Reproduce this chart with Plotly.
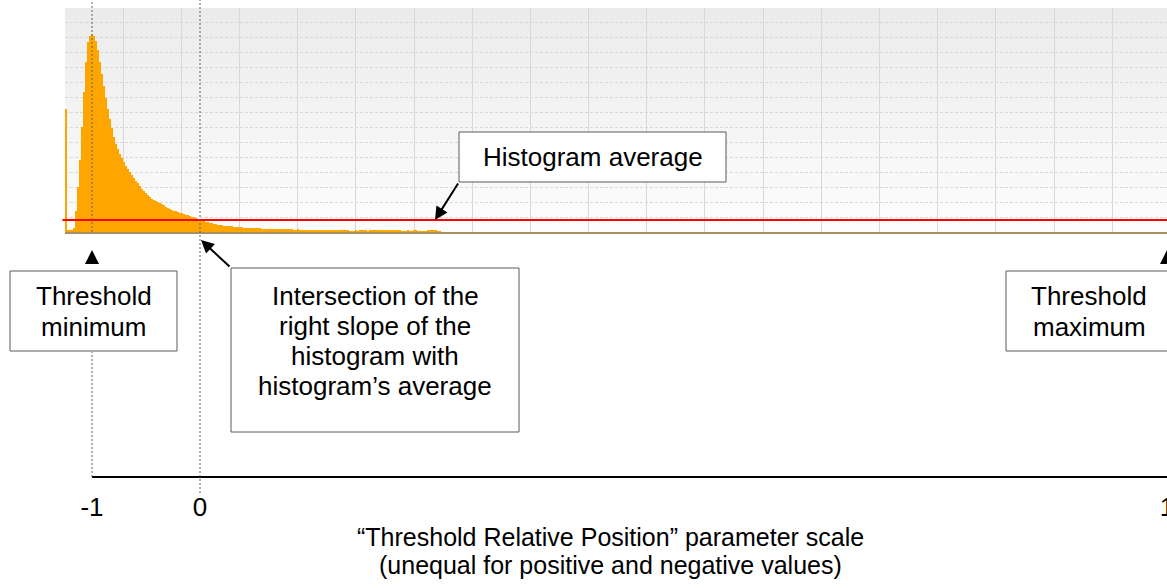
import base64
import struct
import zlib

import plotly.graph_objects as go

W, H = 1167, 588

# Histogram counts, one value per bin (bin i spans [i, i+1] on the x axis)
hist_counts = [
    820, 7, 7, 7, 27, 140, 300, 480, 700, 933,
    1133, 1267, 1307, 1320, 1307, 1273, 1213, 1133, 1053, 973,
    893, 820, 753, 693, 633, 587, 553, 520, 493, 467,
    440, 420, 400, 380, 360, 340,
    327, 307, 287, 273, 260, 247, 233, 223, 213, 207, 200, 193, 187, 177, 167,
    160, 153, 147, 140, 140, 133, 127, 127, 120, 113, 113, 107, 100, 100, 93, 87, 80,
    73, 73, 67, 67, 60, 60,
    53, 53, 50, 47, 47, 43, 40, 40, 40, 37,
    33, 33, 33, 33, 33, 30, 30, 30, 30, 27,
    27, 27, 27, 27, 23, 23, 23, 23, 23, 20, 20, 20, 20, 20, 20,
    17, 17, 17, 17, 17, 13, 13, 17, 13, 13, 13, 13, 13, 13, 10, 13, 10, 10, 10, 10, 10, 10, 10, 10,
    10, 10, 10, 10, 10, 10, 10, 10, 10, 3,
    3, 3, 10, 3, 10, 10, 10, 10, 3, 10,
    10, 10, 10, 10, 10, 10, 10, 10, 10, 10,
    10, 10, 10, 10, 10, 3, 3, 3, 10, 3,
    3, 10, 10, 3, 3, 3, 3, 3, 10, 10,
    10, 10, 10, 3, 3,
]
AVERAGE = 80                      # histogram average (same units as counts)
VIEW_BINS = 551                   # number of bins visible on the x axis
scale_labels = ["-1", "0", "1"]   # parameter scale tick labels

FONT = "Liberation Sans, Arial, sans-serif"


def fy(pix):
    """pixel row -> paper y"""
    return 1 - pix / H


def fx(pix):
    """pixel column -> paper x"""
    return pix / W


# threshold positions in bin coordinates
peak_bin = hist_counts.index(max(hist_counts))
cross_bin = next(i for i in range(peak_bin, len(hist_counts)) if hist_counts[i] <= AVERAGE)
thr_min = peak_bin + 0.5
thr_zero = cross_bin + 0.5
thr_max = VIEW_BINS


def gradient_png(h, top, bottom):
    rows = b"".join(b"\x00" + bytes([round(top + (bottom - top) * i / (h - 1))]) for i in range(h))

    def chunk(tag, data):
        return struct.pack(">I", len(data)) + tag + data + struct.pack(">I", zlib.crc32(tag + data) & 0xFFFFFFFF)

    png = (b"\x89PNG\r\n\x1a\n"
           + chunk(b"IHDR", struct.pack(">IIBBBBB", 1, h, 8, 0, 0, 0, 0))
           + chunk(b"IDAT", zlib.compress(rows))
           + chunk(b"IEND", b""))
    return "data:image/png;base64," + base64.b64encode(png).decode()


fig = go.Figure()
fig.add_trace(go.Bar(
    x=[i + 0.5 for i in range(len(hist_counts))],
    y=hist_counts,
    width=1,
    marker=dict(color="#ffa500", line=dict(width=0)),
    hoverinfo="skip",
    showlegend=False,
))
# invisible trace to bring the parameter-scale axis to life
fig.add_trace(go.Scatter(x=[thr_min, thr_max], y=[0, 0], xaxis="x2", yaxis="y2",
                         mode="markers", marker=dict(opacity=0), hoverinfo="skip", showlegend=False))

fig.update_layout(
    width=W, height=H,
    margin=dict(l=0, r=0, t=0, b=0, autoexpand=False),
    paper_bgcolor="white",
    plot_bgcolor="rgba(0,0,0,0)",
    bargap=0,
    font=dict(family=FONT, color="black"),
    xaxis=dict(
        domain=[fx(65), 1], range=[0, VIEW_BINS], automargin=False,
        showgrid=True, gridcolor="#d8d8d8", gridwidth=1,
        tick0=0, dtick=29.09, ticks="", showticklabels=False,
        zeroline=False, showline=True, linecolor="#a89060", linewidth=2,
    ),
    yaxis=dict(
        domain=[fy(232), fy(8)], range=[0, 224 / 15 * 100], automargin=False,
        showgrid=True, gridcolor="#d8d8d8", griddash="3px,2px", dtick=100,
        ticks="", showticklabels=False, zeroline=False, showline=False,
    ),
    xaxis2=dict(
        domain=[fx(92), 1], range=[thr_min, thr_max], anchor="y2", automargin=False,
        tickmode="array", tickvals=[thr_min, thr_zero, thr_max], ticktext=scale_labels,
        tickfont=dict(size=26, family=FONT, color="black"),
        ticks="", ticklabelstandoff=7, ticklabeloverflow="allow",
        showgrid=False, zeroline=False, showline=True, linecolor="black", linewidth=2,
    ),
    yaxis2=dict(domain=[fy(476), fy(470)], range=[0, 1], visible=False, automargin=False),
    images=[dict(
        source=gradient_png(224, 235, 253),
        xref="paper", yref="paper", x=fx(65), y=fy(8),
        sizex=1 - fx(65), sizey=fy(8) - fy(232),
        xanchor="left", yanchor="top", sizing="stretch", layer="below",
    )],
)

shapes = []
# histogram average line
shapes.append(dict(type="line", xref="paper", yref="y", x0=fx(62.5), x1=1, y0=AVERAGE, y1=AVERAGE,
                   line=dict(color="#ff0000", width=2), layer="above"))
# dotted threshold guides
dot = dict(color="#606060", width=1, dash="2px,2px")
for y0, y1 in [(0, 232), (352, 477)]:
    shapes.append(dict(type="line", xref="x", yref="paper", x0=thr_min, x1=thr_min,
                       y0=fy(y1), y1=fy(y0), line=dot, layer="above"))
shapes.append(dict(type="line", xref="x", yref="paper", x0=thr_zero, x1=thr_zero,
                   y0=fy(493), y1=fy(0), line=dot, layer="above"))
# upward marker triangles below the thresholds
for t in (thr_min, thr_max):
    shapes.append(dict(type="path", xref="x", yref="paper",
                       path=f"M{t - 3.5},{fy(264)} L{t + 3.5},{fy(264)} L{t},{fy(250)} Z",
                       fillcolor="black", line=dict(width=0), layer="above"))
# text boxes
boxes = [(10, 271, 177, 351), (231, 268, 519, 432), (459, 132, 726, 182), (1006, 271, 1175, 351)]
for x0, y0, x1, y1 in boxes:
    shapes.append(dict(type="rect", xref="paper", yref="paper",
                       x0=fx(x0), x1=fx(x1), y0=fy(y1), y1=fy(y0),
                       fillcolor="white", line=dict(color="#5a5a5a", width=1), layer="above"))
fig.update_layout(shapes=shapes)

annotations = []


def text_line(txt, cx, baseline, size=26):
    annotations.append(dict(text=txt, xref="paper", yref="paper", x=fx(cx), y=fy(baseline - 0.35 * size),
                            xanchor="center", yanchor="middle", showarrow=False,
                            font=dict(size=size, family=FONT, color="black")))


text_line("Threshold", 93.5, 305)
text_line("minimum", 93.5, 336)
text_line("Intersection of the", 375, 305)
text_line("right slope of the", 375, 335)
text_line("histogram with", 375, 365)
text_line("histogram’s average", 375, 395)
text_line("Histogram average", 592.5, 166)
text_line("Threshold", 1089, 305)
text_line("maximum", 1089, 336)
text_line("“Threshold Relative Position” parameter scale", 610, 545.5, size=25)
text_line("(unequal for positive and negative values)", 610, 573.5, size=25)

# arrows pointing from the boxes to the chart
annotations.append(dict(text="", xref="x", yref="paper", x=thr_zero + 0.5, y=fy(240),
                        ax=30, ay=28, showarrow=True, arrowhead=2, arrowsize=1.3,
                        arrowwidth=2, arrowcolor="black"))
annotations.append(dict(text="", xref="x", yref="y", x=185, y=AVERAGE,
                        ax=24, ay=-38, showarrow=True, arrowhead=2, arrowsize=1.3,
                        arrowwidth=2, arrowcolor="black"))
fig.update_layout(annotations=annotations)

fig.write_html("out.html")
